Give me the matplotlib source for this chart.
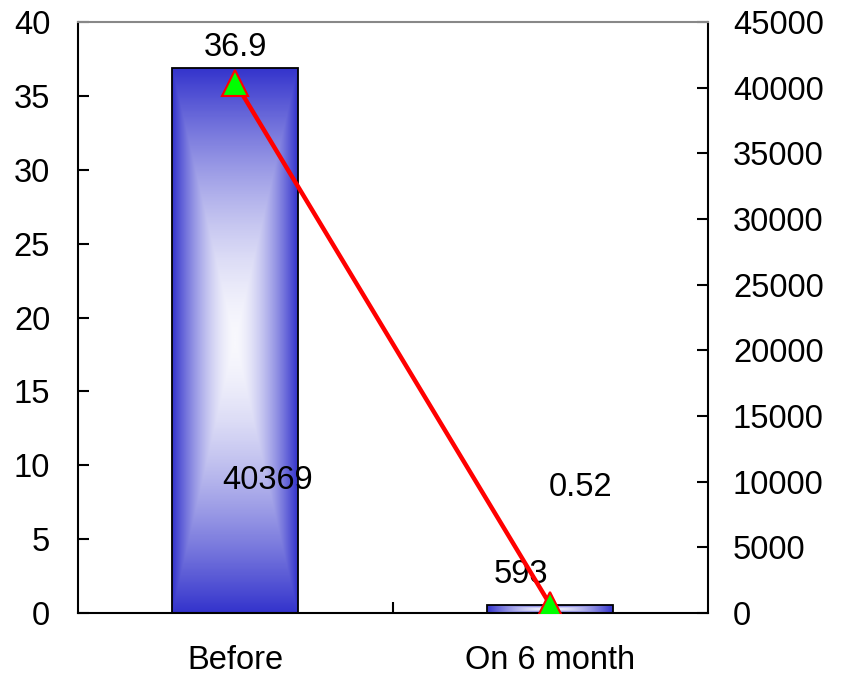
import numpy as np
import matplotlib
matplotlib.use('Agg')
import matplotlib.pyplot as plt
from matplotlib.colors import LinearSegmentedColormap

plt.rcParams['font.family'] = ['Liberation Sans', 'DejaVu Sans']

# data
categories = ['Before', 'On 6 month']
bar_values = [36.9, 0.52]          # left axis
line_values = [40369, 593]         # right axis
bar_labels = ['36.9', '0.52']
line_labels = ['40369', '593']

FS = 23.5

fig = plt.figure(figsize=(8.42, 6.77), dpi=100)
ax = fig.add_axes([0.0926, 0.0945, 0.7482, 0.873])
ax2 = ax.twinx()

x = np.arange(len(categories))
bar_w = 0.4

# gradient "from centre" fill for the bars
cmap = LinearSegmentedColormap.from_list('bluefill', ['#f8f8fd', '#3333cc'])
gx, gy = np.meshgrid(np.linspace(-1, 1, 200), np.linspace(-1, 1, 400))
grad = np.maximum(np.abs(gx), np.abs(gy)) ** 1.6

bars = ax.bar(x, bar_values, width=bar_w, color='none', edgecolor='black',
              linewidth=1.3, zorder=3)
for b in bars:
    bx, by = b.get_x(), b.get_y()
    bw, bh = b.get_width(), b.get_height()
    im = ax.imshow(grad, cmap=cmap, extent=[bx, bx + bw, by, by + bh],
                   aspect='auto', origin='lower', zorder=2, interpolation='bilinear')
    im.set_clip_path(b)

ax.set_xlim(-0.5, 1.5)
ax.set_ylim(0, 40)
ax.set_yticks(np.arange(0, 41, 5))
ax.set_xticks([0.5])
ax.set_xticklabels([])
ax.set_xticks(x, minor=True)
ax.set_xticklabels(categories, minor=True)
ax.tick_params(axis='x', which='minor', length=0, pad=23, labelsize=FS)
ax.tick_params(axis='x', which='major', direction='in', length=8, width=1.5)
ax.tick_params(axis='y', direction='in', length=8, width=1.5, pad=20, labelsize=FS)

ax2.plot(x, line_values, color='red', linewidth=3.2, marker='^', markersize=19,
         markerfacecolor='#00ff00', markeredgecolor='red', markeredgewidth=1.5,
         zorder=5)
ax2.set_ylim(0, 45000)
ax2.set_yticks(np.arange(0, 45001, 5000))
ax2.tick_params(axis='y', direction='in', length=8, width=1.5, pad=18, labelsize=FS)

for sp in ['left', 'right', 'bottom']:
    ax2.spines[sp].set_linewidth(1.5)
    ax2.spines[sp].set_color('black')
ax2.spines['top'].set_color('#888888')
ax2.spines['top'].set_linewidth(1.5)
for sp in ax.spines.values():
    sp.set_visible(False)

# value labels
ax.text(x[0], bar_values[0] + 1.4, bar_labels[0], ha='center', va='center', fontsize=FS)
ax.text(1.094, 8.5, bar_labels[1], ha='center', va='center', fontsize=FS)
ax.text(0.103, 9.0, line_labels[0], ha='center', va='center', fontsize=FS, zorder=6)
ax.text(0.906, 2.6, line_labels[1], ha='center', va='center', fontsize=FS, zorder=6)

fig.savefig('out.png', dpi=100)
